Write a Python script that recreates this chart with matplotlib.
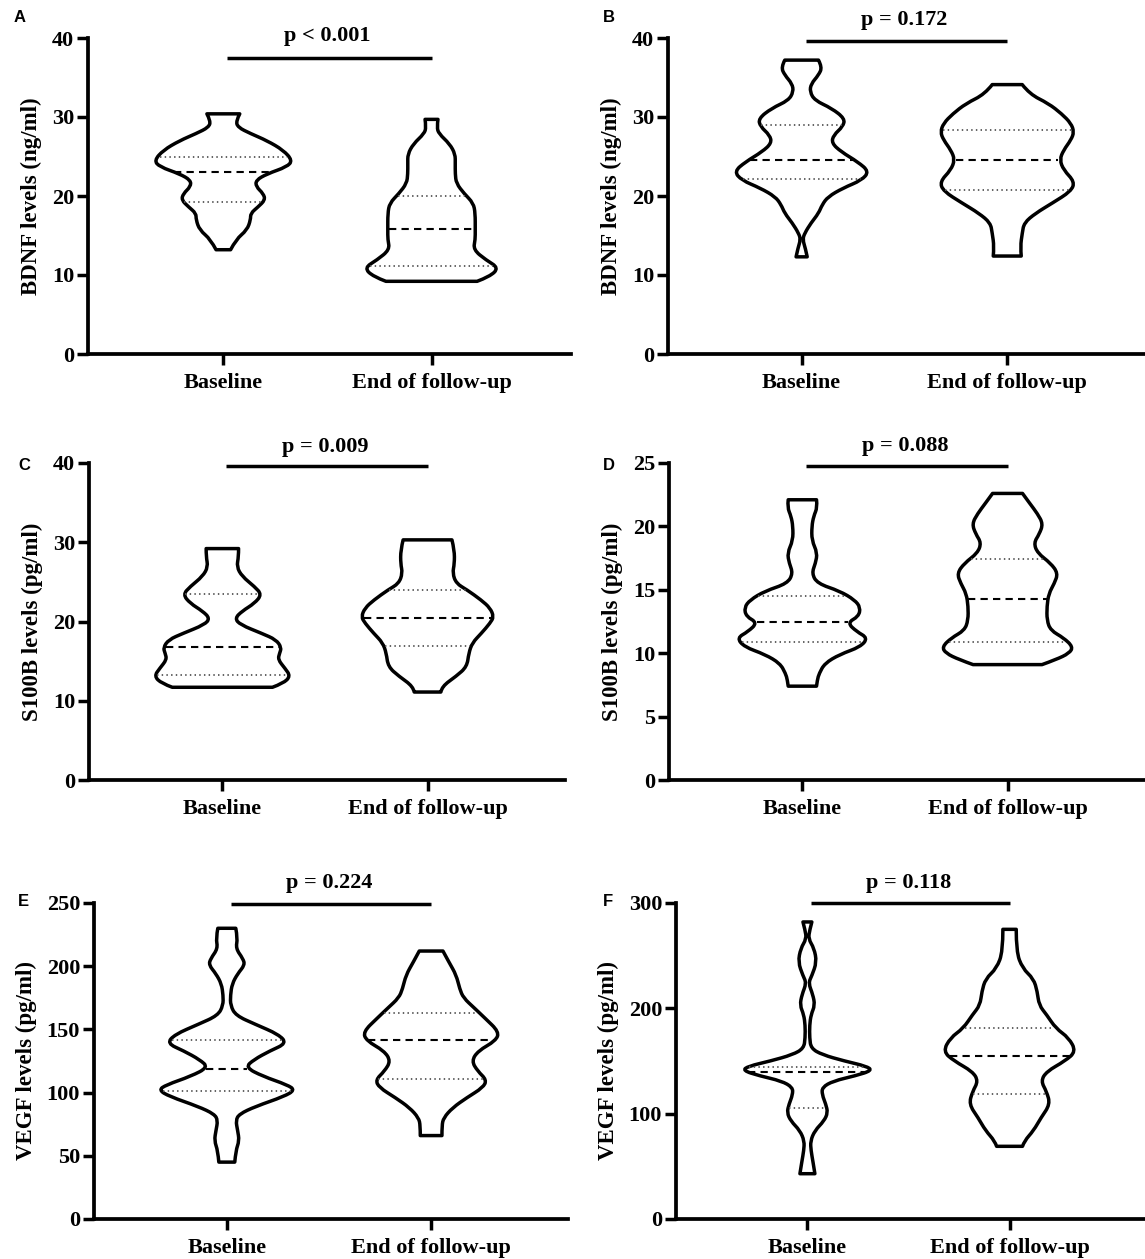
import numpy as np
import matplotlib.pyplot as plt
from matplotlib.path import Path
from matplotlib.patches import PathPatch

plt.rcParams['font.family'] = ['Liberation Serif', 'DejaVu Serif']
plt.rcParams['font.weight'] = 'bold'

groups = ["Baseline", "End of follow-up"]

# --- violin outlines: level (y) and half width (category units), top -> bottom
# A: BDNF, cohort 1
a_base_y = [30.4, 29.5, 28.7, 27.9, 27.0, 25.8, 24.5, 23.7, 22.8, 22.0, 21.2, 20.3, 19.5, 18.6, 17.8, 17.0, 15.7, 14.5, 13.2]
a_base_w = [0.079, 0.061, 0.070, 0.131, 0.210, 0.288, 0.332, 0.306, 0.210, 0.157, 0.157, 0.192, 0.201, 0.166, 0.131, 0.131, 0.114, 0.061, 0.035]
a_base_q = [19.3, 23.1, 25.0]
a_end_y = [29.7, 28.7, 27.9, 26.6, 25.3, 24.1, 22.8, 21.6, 20.3, 19.1, 17.8, 15.7, 14.5, 13.2, 11.9, 10.9, 9.8, 9.2]
a_end_w = [0.031, 0.026, 0.035, 0.087, 0.114, 0.114, 0.114, 0.119, 0.157, 0.201, 0.210, 0.210, 0.210, 0.201, 0.262, 0.323, 0.280, 0.219]
a_end_q = [11.2, 15.8, 20.0]

# B: BDNF, cohort 2
b_base_y = [37.2, 36.3, 35.3, 34.2, 33.2, 32.1, 31.1, 29.8, 28.8, 27.7, 26.7, 25.6, 24.3, 23.1, 22.0, 21.0, 19.9, 18.9, 17.8, 16.6, 15.3, 14.5, 13.4, 12.3]
b_base_w = [0.082, 0.100, 0.082, 0.046, 0.040, 0.064, 0.146, 0.210, 0.201, 0.155, 0.146, 0.192, 0.274, 0.328, 0.292, 0.201, 0.128, 0.100, 0.082, 0.046, 0.015, 0.005, 0.018, 0.027]
b_base_q = [22.1, 24.5, 29.0]
b_end_y = [34.1, 32.9, 31.7, 30.4, 29.2, 28.1, 27.1, 25.8, 24.6, 23.3, 21.8, 20.6, 19.1, 17.8, 16.6, 15.3, 13.6, 12.4]
b_end_w = [0.073, 0.109, 0.201, 0.265, 0.310, 0.325, 0.310, 0.274, 0.255, 0.274, 0.328, 0.310, 0.219, 0.137, 0.082, 0.073, 0.064, 0.068]
b_end_q = [20.8, 24.6, 28.4]

# C: S100B, cohort 1
c_base_y = [29.2, 28.2, 26.9, 25.7, 24.4, 23.4, 22.3, 21.3, 20.4, 19.6, 18.5, 17.7, 16.7, 16.0, 15.2, 14.1, 13.1, 12.2, 11.7]
c_base_w = [0.079, 0.079, 0.070, 0.096, 0.157, 0.192, 0.157, 0.096, 0.061, 0.087, 0.192, 0.262, 0.288, 0.279, 0.271, 0.305, 0.332, 0.297, 0.244]
c_base_q = [13.3, 16.8, 23.5]
c_end_y = [30.3, 29.0, 27.3, 26.1, 24.8, 24.0, 22.7, 21.7, 20.6, 19.8, 18.5, 17.3, 16.0, 14.3, 13.1, 11.8, 11.1]
c_end_w = [0.119, 0.131, 0.131, 0.122, 0.140, 0.192, 0.262, 0.305, 0.323, 0.305, 0.262, 0.218, 0.201, 0.192, 0.140, 0.070, 0.065]
c_end_q = [16.9, 20.4, 24.0]

# D: S100B, cohort 2
d_base_y = [22.1, 21.5, 20.8, 20.0, 18.9, 17.9, 17.1, 16.3, 15.5, 14.9, 14.2, 13.6, 12.9, 12.4, 11.7, 11.2, 10.5, 9.9, 9.2, 8.4, 7.9, 7.4]
d_base_w = [0.069, 0.073, 0.055, 0.046, 0.046, 0.073, 0.064, 0.046, 0.073, 0.182, 0.255, 0.283, 0.274, 0.219, 0.265, 0.319, 0.283, 0.182, 0.109, 0.082, 0.073, 0.069]
d_base_q = [10.9, 12.5, 14.5]
d_end_y = [22.6, 21.8, 21.0, 20.2, 19.4, 18.7, 17.9, 17.1, 16.3, 15.5, 14.7, 13.7, 12.6, 11.8, 11.2, 10.5, 10.0, 9.5, 9.1]
d_end_w = [0.073, 0.109, 0.146, 0.173, 0.155, 0.128, 0.146, 0.210, 0.246, 0.228, 0.201, 0.192, 0.192, 0.210, 0.274, 0.319, 0.301, 0.237, 0.168]
d_end_q = [10.9, 14.3, 17.4]

# E: VEGF, cohort 1
e_base_y = [230, 222, 214, 206, 201, 194, 186, 177, 169, 161, 154, 146, 139, 133, 126, 120, 113, 106, 102, 97, 89, 83, 78, 70, 62, 54, 45]
e_base_w = [0.044, 0.053, 0.044, 0.079, 0.088, 0.053, 0.026, 0.018, 0.018, 0.044, 0.140, 0.254, 0.293, 0.211, 0.132, 0.091, 0.175, 0.298, 0.333, 0.281, 0.140, 0.061, 0.044, 0.053, 0.061, 0.044, 0.039]
e_base_q = [101, 119, 142]
e_end_y = [212, 203, 193, 182, 175, 167, 159, 148, 141, 133, 125, 117, 110, 104, 96, 88, 80, 74, 66]
e_end_w = [0.058, 0.088, 0.123, 0.140, 0.158, 0.211, 0.263, 0.333, 0.316, 0.230, 0.198, 0.228, 0.272, 0.254, 0.175, 0.105, 0.061, 0.053, 0.053]
e_end_q = [111, 142, 163]

# F: VEGF, cohort 2
f_base_y = [282, 274, 266, 257, 244, 231, 224, 213, 203, 194, 184, 172, 162, 156, 150, 145, 141, 136, 131, 125, 118, 109, 101, 93, 84, 74, 65, 55, 43]
f_base_w = [0.022, 0.011, 0.005, 0.033, 0.046, 0.022, 0.005, 0.027, 0.037, 0.018, 0.011, 0.011, 0.018, 0.073, 0.183, 0.293, 0.320, 0.238, 0.128, 0.073, 0.073, 0.091, 0.101, 0.082, 0.037, 0.015, 0.018, 0.027, 0.037]
f_base_q = [105, 140, 144]
f_end_y = [275, 254, 238, 228, 216, 203, 194, 181, 172, 159, 150, 140, 131, 121, 109, 96, 84, 74, 69]
f_end_w = [0.033, 0.033, 0.064, 0.119, 0.137, 0.146, 0.183, 0.229, 0.293, 0.329, 0.274, 0.183, 0.155, 0.183, 0.201, 0.155, 0.119, 0.073, 0.064]
f_end_q = [119, 155, 181]

p_labels = ["p < 0.001", "p = 0.172", "p = 0.009", "p = 0.088", "p = 0.224", "p = 0.118"]
y_titles = ["BDNF levels (ng/ml)", "BDNF levels (ng/ml)", "S100B levels (pg/ml)",
            "S100B levels (pg/ml)", "VEGF levels (pg/ml)", "VEGF levels (pg/ml)"]
letters = ["A", "B", "C", "D", "E", "F"]
y_max = [40, 40, 40, 25, 250, 300]
y_step = [10, 10, 10, 5, 50, 100]

violins = [
    [(a_base_y, a_base_w, a_base_q), (a_end_y, a_end_w, a_end_q)],
    [(b_base_y, b_base_w, b_base_q), (b_end_y, b_end_w, b_end_q)],
    [(c_base_y, c_base_w, c_base_q), (c_end_y, c_end_w, c_end_q)],
    [(d_base_y, d_base_w, d_base_q), (d_end_y, d_end_w, d_end_q)],
    [(e_base_y, e_base_w, e_base_q), (e_end_y, e_end_w, e_end_q)],
    [(f_base_y, f_base_w, f_base_q), (f_end_y, f_end_w, f_end_q)],
]

# layout in pixels: (spine x, axes width, top y, zero y), bracket / p-text height as fraction of y max
W, H = 1145, 1259
layout = [(88, 483, 38, 354), (668, 477, 38, 354),
          (89, 476, 463, 780), (669, 476, 463, 780),
          (94, 474, 903, 1219), (676, 469, 903, 1219)]
bracket = [(0.937, 1.005), (0.99, 1.057), (0.99, 1.052), (0.99, 1.054), (0.996, 1.062), (1.0, 1.062)]
letter_pos = [(14, 18), (603, 18), (18, 465), (603, 465), (18, 902), (603, 902)]


def chain(pts):
    # smooth quadratic curve through the outline knots
    verts, codes = [], []
    n = len(pts)
    for i in range(1, n - 1):
        end = pts[-1] if i == n - 2 else ((pts[i][0] + pts[i + 1][0]) / 2, (pts[i][1] + pts[i + 1][1]) / 2)
        verts += [pts[i], end]
        codes += [Path.CURVE3, Path.CURVE3]
    return verts, codes


def violin(ax, x0, ys, ws, quart):
    ys = np.asarray(ys, float)
    ws = np.asarray(ws, float)
    left = [(x0 - w, y) for y, w in zip(ys[::-1], ws[::-1])]
    right = [(x0 + w, y) for y, w in zip(ys, ws)]
    verts, codes = [left[0]], [Path.MOVETO]
    v, c = chain(left)
    verts += v; codes += c
    verts.append(right[0]); codes.append(Path.LINETO)
    v, c = chain(right)
    verts += v; codes += c
    verts.append(left[0]); codes.append(Path.CLOSEPOLY)
    ax.add_patch(PathPatch(Path(verts, codes), facecolor="white", edgecolor="black",
                           lw=2.5, joinstyle="round", zorder=2))
    for k, q in enumerate(quart):
        hw = np.interp(q, ys[::-1], ws[::-1]) * 0.97
        if k == 1:
            ax.plot([x0 - hw, x0 + hw], [q, q], color="black", lw=1.5, ls=(0, (3.5, 2.5)), zorder=3)
        else:
            ax.plot([x0 - hw, x0 + hw], [q, q], color="#555555", lw=1.3, ls=(0, (0.8, 1.8)), zorder=3)


fig = plt.figure(figsize=(W / 100, H / 100), dpi=100)

for i in range(6):
    sx, aw, ytop, yzero = layout[i]
    ax = fig.add_axes([sx / W, 1 - yzero / H, aw / W, (yzero - ytop) / H])
    for x0, (ys, ws, q) in enumerate(violins[i]):
        violin(ax, x0, ys, ws, q)
    ax.set_xlim(-0.65, 1.67)
    ax.set_ylim(0, y_max[i])
    ax.set_yticks(np.arange(0, y_max[i] + 1, y_step[i]))
    ax.set_xticks([0, 1])
    ax.set_xticklabels(groups, fontsize=16, fontweight="bold")
    ax.tick_params(axis="y", labelsize=16, width=2.5, length=8, pad=2)
    ax.tick_params(axis="x", width=2.5, length=8, pad=6)
    for s in ["top", "right"]:
        ax.spines[s].set_visible(False)
    for s in ["left", "bottom"]:
        ax.spines[s].set_linewidth(2.7)
    ax.set_ylabel(y_titles[i], fontsize=16.5, fontweight="bold", labelpad=7)
    yb, yt = bracket[i]
    ax.plot([0.02, 1.0], [yb * y_max[i], yb * y_max[i]], color="black", lw=2.5,
            clip_on=False, solid_capstyle="butt")
    ax.text(0.5, yt * y_max[i], p_labels[i], ha="center", va="center", fontsize=16,
            fontweight="bold")
    lx, ly = letter_pos[i]
    fig.text(lx / W, 1 - ly / H, letters[i], ha="left", va="center", fontsize=12,
             fontweight="bold", family=["Liberation Sans", "DejaVu Sans"])

fig.savefig("out.png", dpi=100)
